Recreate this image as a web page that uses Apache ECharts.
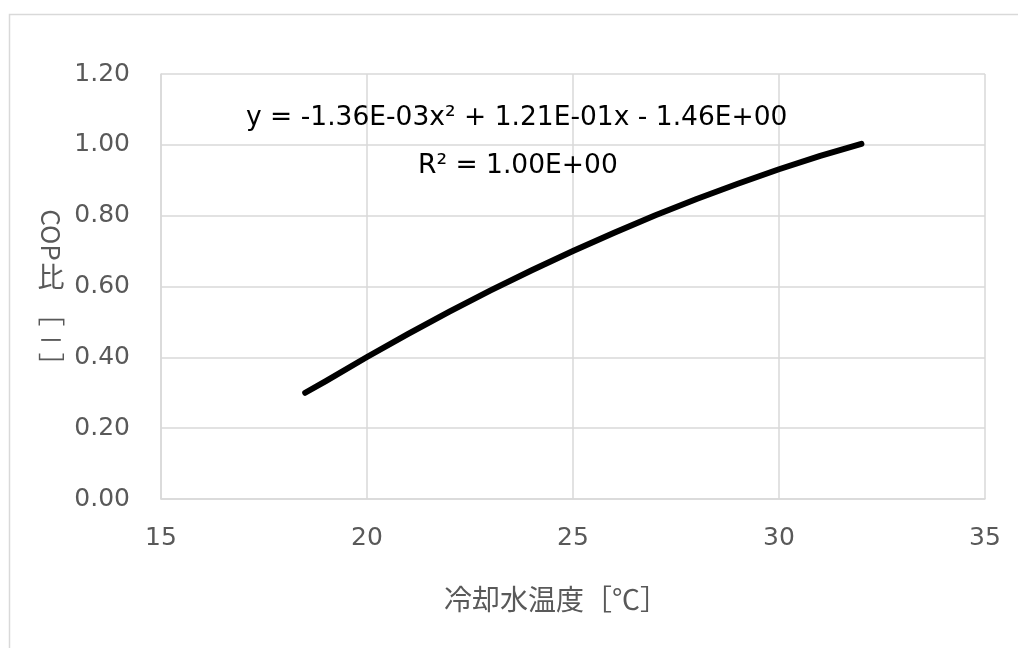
<!DOCTYPE html>
<html>
<head>
<meta charset="utf-8">
<script src="https://cdn.jsdelivr.net/npm/echarts@6/dist/echarts.min.js"></script>
<style>
html,body{margin:0;padding:0;background:#fff;}
#chart{width:1018px;height:648px;}
</style>
</head>
<body>
<div id="chart"></div>
<script>
// Data
const temps = [18.5, 19, 20, 21, 22, 23, 24, 25, 26, 27, 28, 29, 30, 31, 32];
const copRatio = [0.300, 0.333, 0.401, 0.466, 0.529, 0.589, 0.646, 0.700, 0.752, 0.801, 0.847, 0.890, 0.931, 0.969, 1.003];
const xTicks = [15, 20, 25, 30, 35];
const yTicks = [0, 0.2, 0.4, 0.6, 0.8, 1.0, 1.2];
const xName = '冷却水温度［℃］';
// y-axis title "COP比［－］" set vertically: Latin and brackets turned, CJK upright
const yNameParts = ['COP', '比', '［', '－', '］'];
const yNameTurned = [true, false, true, false, true];
const eqText = 'y = -1.36E-03x² + 1.21E-01x - 1.46E+00';
const r2Text = 'R² = 1.00E+00';

const pts = temps.map((t, i) => [t, copRatio[i]]);
const font = '"DejaVu Sans", Verdana, sans-serif';
const cjkFont = '"Noto Sans CJK JP", "DejaVu Sans", sans-serif';
const grey = '#595959';

const yNameY = [235, 277, 313, 340, 366];
const yNameGraphics = yNameParts.map((p, i) => ({
  type: 'text', x: 51, y: yNameY[i], z: 10,
  rotation: yNameTurned[i] ? -Math.PI / 2 : 0,
  style: {text: p, font: (i === 0 ? '26px ' : '27px ') + cjkFont, fill: grey,
          align: 'center', verticalAlign: 'middle'}
}));

const chart = echarts.init(document.getElementById('chart'));
chart.setOption({
  animation: false,
  backgroundColor: '#fff',
  grid: {left: 161, right: 33, top: 74, bottom: 149},
  xAxis: {
    type: 'value', min: xTicks[0], max: xTicks[xTicks.length - 1], interval: 5,
    name: xName, nameLocation: 'middle', nameGap: 86,
    nameTextStyle: {fontFamily: cjkFont, fontSize: 28, color: grey, padding: [0, 34, 0, 0]},
    axisLine: {show: true, lineStyle: {color: '#d9d9d9', width: 1.5}},
    axisTick: {show: false},
    axisLabel: {fontFamily: font, fontSize: 25, color: grey, margin: 27},
    splitLine: {show: true, lineStyle: {color: '#d9d9d9', width: 1.5}}
  },
  yAxis: {
    type: 'value', min: yTicks[0], max: yTicks[yTicks.length - 1], interval: 0.2,
    axisLine: {show: true, lineStyle: {color: '#d9d9d9', width: 1.5}},
    axisTick: {show: false},
    axisLabel: {fontFamily: font, fontSize: 25, color: grey, margin: 31,
      formatter: v => v.toFixed(2)},
    splitLine: {show: true, lineStyle: {color: '#d9d9d9', width: 1.5}}
  },
  series: [
    {type: 'line', data: pts, smooth: false, showSymbol: false, z: 2,
     lineStyle: {color: '#ED7D31', width: 2}},
    {type: 'line', data: pts, smooth: false, showSymbol: false, z: 3,
     lineStyle: {color: '#000', width: 6, cap: 'round', join: 'round'}}
  ],
  graphic: [
    {type: 'rect', left: 7, top: 12, z: -10, silent: true,
     shape: {width: 1030, height: 660},
     style: {fill: 'none', stroke: '#d9d9d9', lineWidth: 1.5}},
    {type: 'text', x: 246, y: 118, z: 10,
     style: {text: eqText, font: '26.5px ' + font, fill: '#000', verticalAlign: 'middle'}},
    {type: 'text', x: 418, y: 166, z: 10,
     style: {text: r2Text, font: '26.5px ' + font, fill: '#000', verticalAlign: 'middle'}}
  ].concat(yNameGraphics)
});
</script>
</body>
</html>
